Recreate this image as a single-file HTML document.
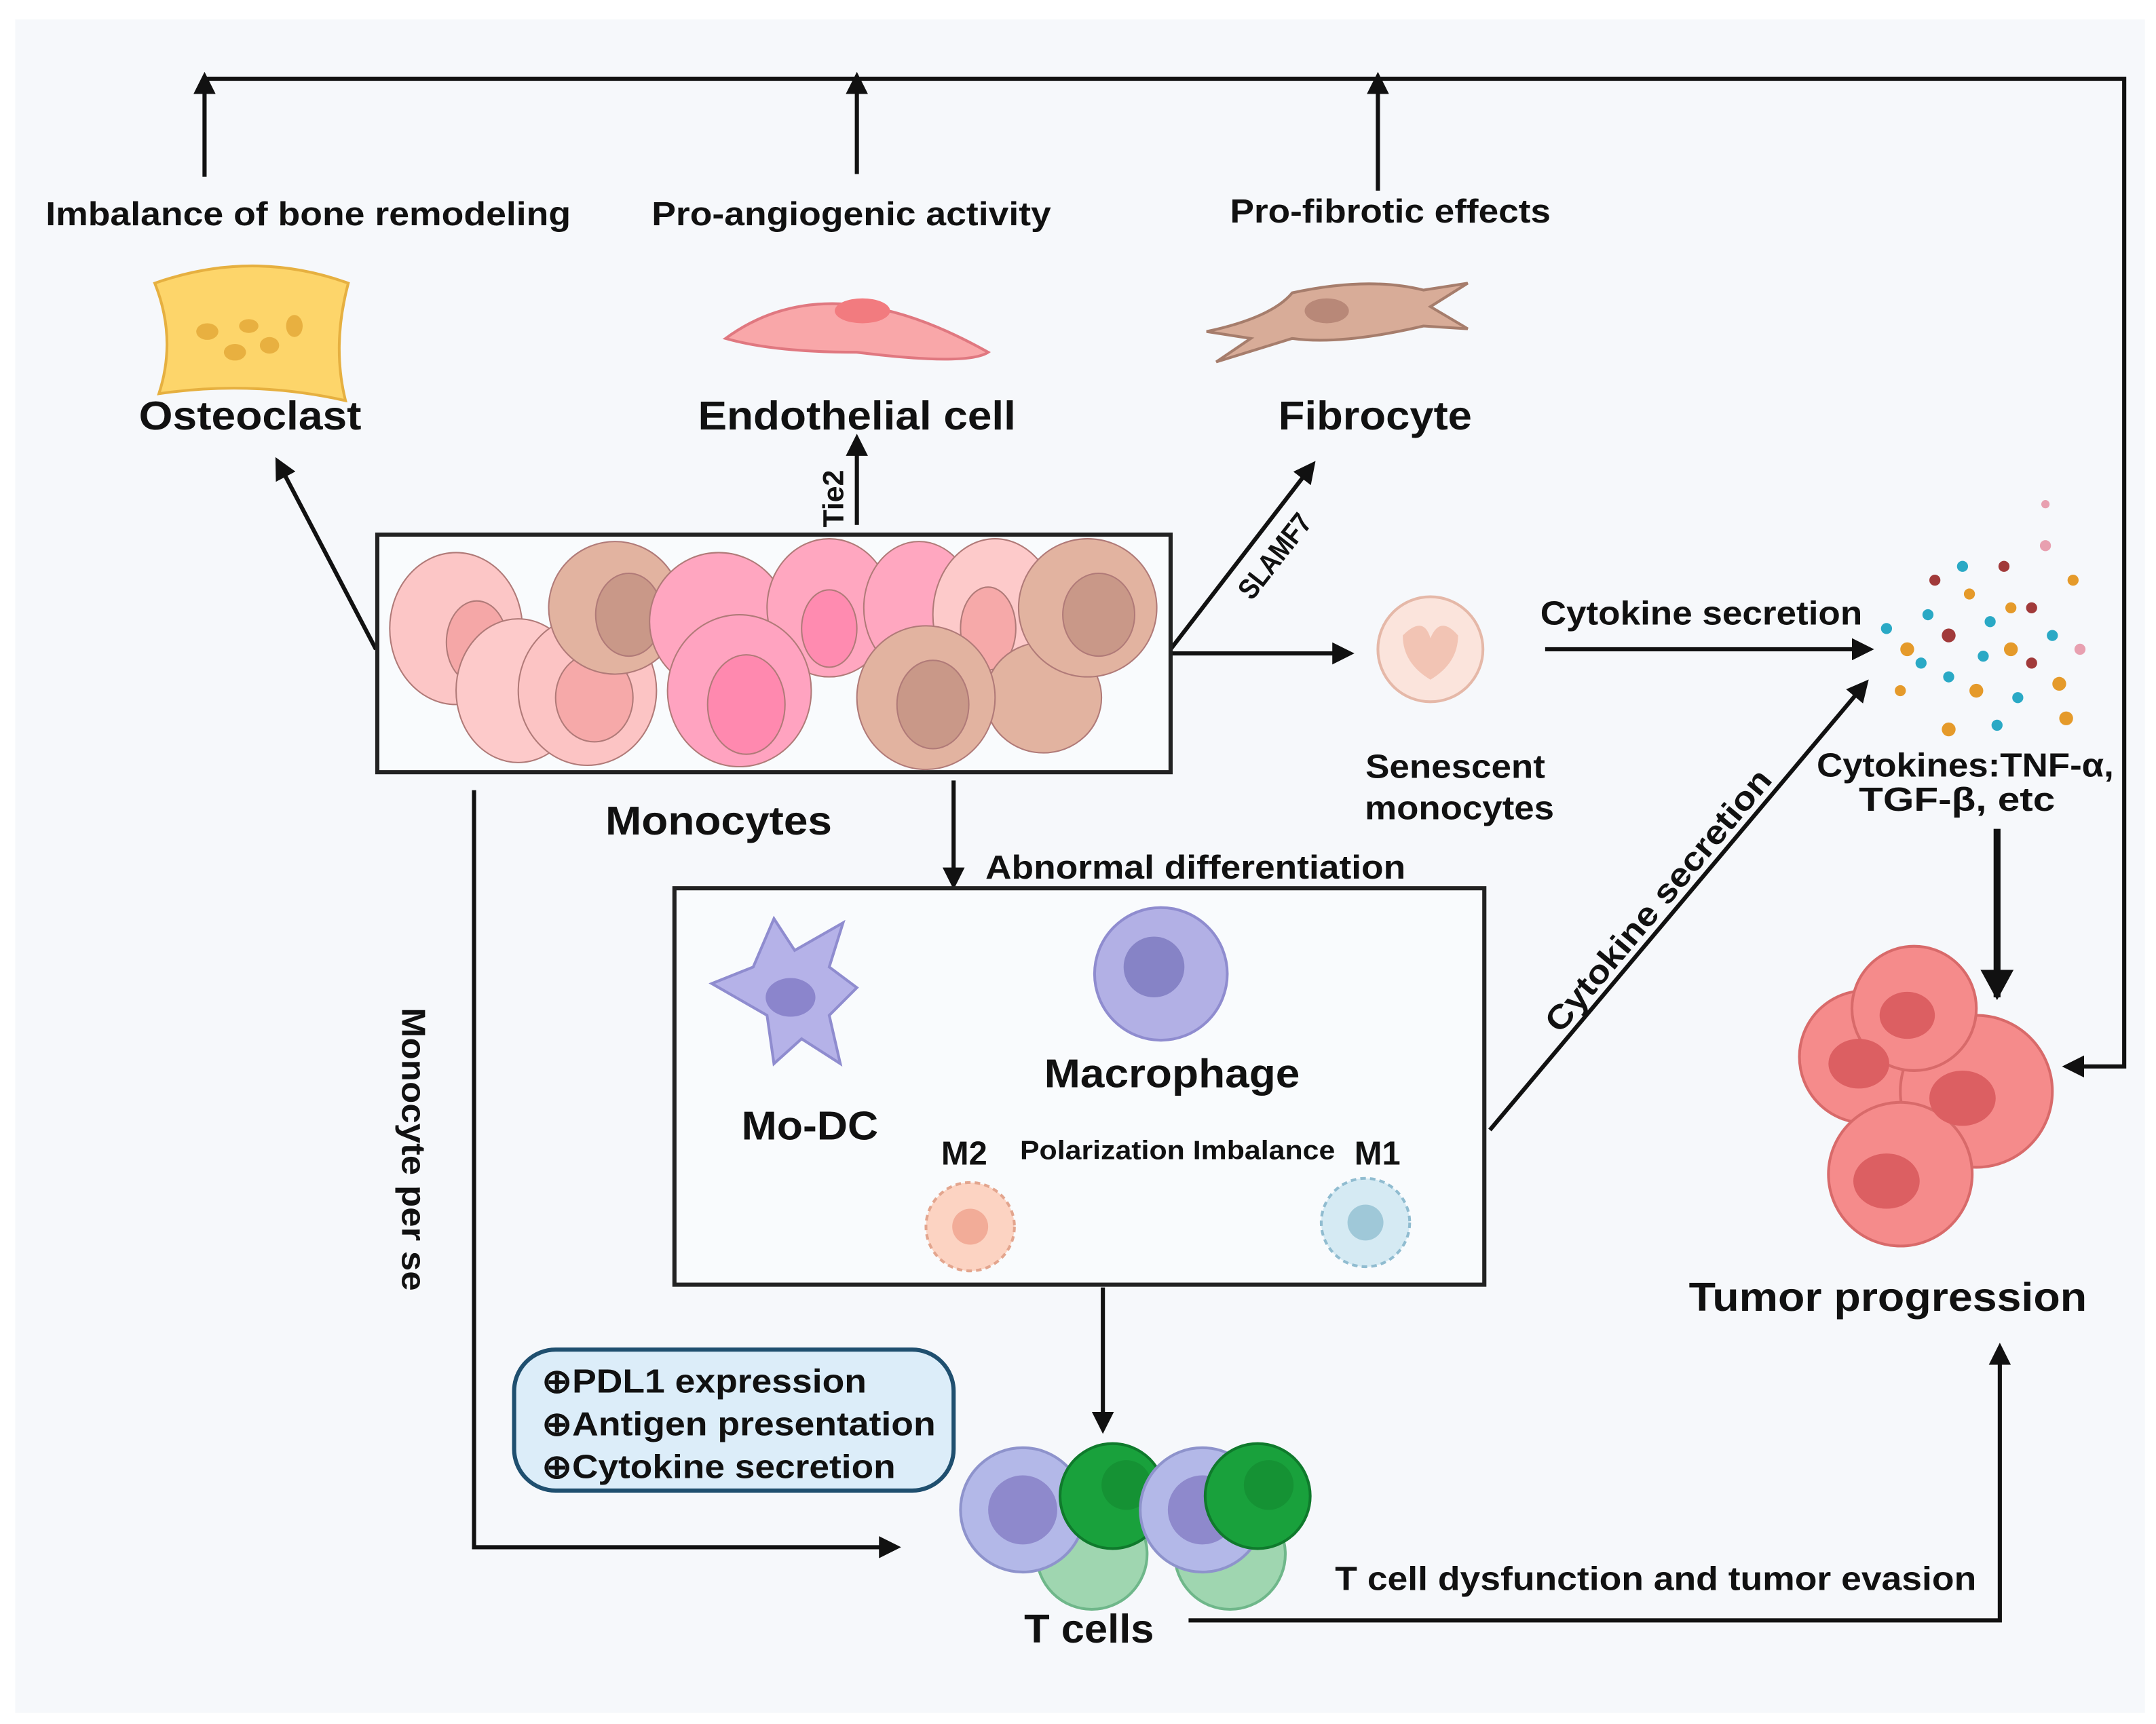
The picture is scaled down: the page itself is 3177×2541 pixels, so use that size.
<!DOCTYPE html>
<html><head><meta charset="utf-8"><style>
html,body{margin:0;padding:0;background:#fff;}
svg{display:block;}
text{font-family:"Liberation Sans",Arial,sans-serif;font-weight:bold;fill:#111;}
</style></head><body>
<svg width="3177" height="2541" viewBox="0 0 1560 1248" preserveAspectRatio="none" xmlns="http://www.w3.org/2000/svg">
<defs>
<marker id="b" markerWidth="16" markerHeight="16" refX="8" refY="8" orient="auto" markerUnits="userSpaceOnUse" viewBox="0 0 16 16"><path d="M0,0 L16,8 L0,16 z" fill="#111"/></marker>
<marker id="c" markerWidth="22" markerHeight="24" refX="20" refY="12" orient="auto" markerUnits="userSpaceOnUse"><path d="M0,0 L22,12 L0,24 z" fill="#111"/></marker>
</defs>
<rect x="0" y="0" width="1560" height="1248" fill="#fff"/>
<rect x="11" y="14" width="1541" height="1226" fill="#f6f8fb"/>

<g stroke="#111" stroke-width="3" fill="none">
<path d="M148,57 L1537,57 L1537,772 L1500,772" marker-end="url(#b)"/>
<path d="M148,128 L148,60" marker-end="url(#b)"/>
<path d="M620,126 L620,60" marker-end="url(#b)"/>
<path d="M997,138 L997,60" marker-end="url(#b)"/>
<path d="M272,470 L203,338" marker-end="url(#b)"/>
<path d="M620,380 L620,322" marker-end="url(#b)"/>
<path d="M847,470 L947,340" marker-end="url(#b)"/>
<path d="M847,473 L972,473" marker-end="url(#b)"/>
<path d="M1118,470 L1348,470" marker-end="url(#b)"/>
<path d="M690,565 L690,636" marker-end="url(#b)"/>
<path d="M1078,818 L1347,498" marker-end="url(#b)"/>
<path d="M798,932 L798,1030" marker-end="url(#b)"/>
<path d="M343,572 L343,1120 L644,1120" marker-end="url(#b)"/>
<path d="M860,1173 L1447,1173 L1447,980" marker-end="url(#b)"/>
<path d="M1445,600 L1445,722" stroke-width="5" marker-end="url(#c)"/>
<path d="M835,790 L835,805 M700,820 L700,805 L997,805 L997,820"/>
</g>

<rect x="273" y="387" width="574" height="172" fill="#f9fbfd" stroke="#222" stroke-width="3"/>
<rect x="488" y="643" width="586" height="287" fill="#f9fbfd" stroke="#222" stroke-width="3"/>
<rect x="372" y="977" width="318" height="102" rx="30" fill="#dcedf9" stroke="#1f4f6f" stroke-width="3"/>

<g stroke="#b07a78" stroke-width="1">
<ellipse cx="330" cy="455" rx="48" ry="55" fill="#fcc6c6"/><ellipse cx="345" cy="465" rx="22" ry="30" fill="#f5a7a7"/>
<ellipse cx="375" cy="500" rx="45" ry="52" fill="#fdcaca"/>
<ellipse cx="425" cy="500" rx="50" ry="54" fill="#fcc4c4"/><ellipse cx="430" cy="505" rx="28" ry="32" fill="#f6a9a9"/>
<ellipse cx="445" cy="440" rx="48" ry="48" fill="#e2b3a0"/><ellipse cx="455" cy="445" rx="24" ry="30" fill="#c99888"/>
<ellipse cx="520" cy="450" rx="50" ry="50" fill="#ffa6c0"/>
<ellipse cx="600" cy="440" rx="45" ry="50" fill="#ffa7c0"/><ellipse cx="600" cy="455" rx="20" ry="28" fill="#ff8bb0"/>
<ellipse cx="665" cy="440" rx="40" ry="48" fill="#ffa7c0"/>
<ellipse cx="535" cy="500" rx="52" ry="55" fill="#ffa3c0"/><ellipse cx="540" cy="510" rx="28" ry="36" fill="#ff89af"/>
<ellipse cx="720" cy="445" rx="45" ry="55" fill="#fdcaca"/><ellipse cx="715" cy="455" rx="20" ry="30" fill="#f6a9a9"/>
<ellipse cx="755" cy="505" rx="42" ry="40" fill="#e2b3a0"/>
<ellipse cx="670" cy="505" rx="50" ry="52" fill="#e2b3a0"/><ellipse cx="675" cy="510" rx="26" ry="32" fill="#c99888"/>
<ellipse cx="787" cy="440" rx="50" ry="50" fill="#e2b3a0"/><ellipse cx="795" cy="445" rx="26" ry="30" fill="#c99888"/>
</g>

<path d="M112,205 Q183,180 252,205 Q240,250 250,290 Q183,275 115,285 Q128,245 112,205z" fill="#fdd56a" stroke="#e6b040" stroke-width="2"/>
<g fill="#e8b040"><ellipse cx="150" cy="240" rx="8" ry="6"/><ellipse cx="170" cy="255" rx="8" ry="6"/><ellipse cx="195" cy="250" rx="7" ry="6"/><ellipse cx="213" cy="236" rx="6" ry="8"/><ellipse cx="180" cy="236" rx="7" ry="5"/></g>
<path d="M525,245 Q600,190 715,255 Q700,265 620,255 Q560,255 525,245z" fill="#f9a7a9" stroke="#e07880" stroke-width="2"/>
<ellipse cx="624" cy="225" rx="20" ry="9" fill="#f27b7f"/>
<path d="M873,240 Q920,230 935,212 Q990,200 1030,210 L1062,205 L1035,222 L1062,238 L1030,236 Q970,250 935,245 L880,262 L905,245z" fill="#d8ac98" stroke="#a67d6c" stroke-width="2"/>
<ellipse cx="960" cy="225" rx="16" ry="9" fill="#b88878"/>
<circle cx="1035" cy="470" r="38" fill="#fbe4dc" stroke="#e5b8a8" stroke-width="2"/>
<path d="M1015,460 Q1030,445 1035,462 Q1042,445 1055,460 Q1055,480 1035,492 Q1015,480 1015,460z" fill="#f2c4b4"/>
<g>
<circle cx="1380" cy="470" r="5" fill="#e59a2a"/><circle cx="1395" cy="445" r="4" fill="#2aa9c5"/><circle cx="1410" cy="460" r="5" fill="#a13a3a"/><circle cx="1425" cy="430" r="4" fill="#e59a2a"/><circle cx="1440" cy="450" r="4" fill="#2aa9c5"/><circle cx="1455" cy="470" r="5" fill="#e59a2a"/><circle cx="1470" cy="440" r="4" fill="#a13a3a"/><circle cx="1485" cy="460" r="4" fill="#2aa9c5"/><circle cx="1500" cy="420" r="4" fill="#e59a2a"/><circle cx="1410" cy="490" r="4" fill="#2aa9c5"/><circle cx="1430" cy="500" r="5" fill="#e59a2a"/><circle cx="1460" cy="505" r="4" fill="#2aa9c5"/><circle cx="1490" cy="495" r="5" fill="#e59a2a"/><circle cx="1375" cy="500" r="4" fill="#e59a2a"/><circle cx="1450" cy="410" r="4" fill="#a13a3a"/><circle cx="1480" cy="395" r="4" fill="#e8a0b0"/><circle cx="1420" cy="410" r="4" fill="#2aa9c5"/><circle cx="1400" cy="420" r="4" fill="#a13a3a"/><circle cx="1365" cy="455" r="4" fill="#2aa9c5"/><circle cx="1495" cy="520" r="5" fill="#e59a2a"/><circle cx="1445" cy="525" r="4" fill="#2aa9c5"/><circle cx="1410" cy="528" r="5" fill="#e59a2a"/><circle cx="1470" cy="480" r="4" fill="#a13a3a"/><circle cx="1435" cy="475" r="4" fill="#2aa9c5"/><circle cx="1390" cy="480" r="4" fill="#2aa9c5"/><circle cx="1505" cy="470" r="4" fill="#e8a0b0"/><circle cx="1480" cy="365" r="3" fill="#e8a0b0"/><circle cx="1455" cy="440" r="4" fill="#e59a2a"/>
</g>
<g stroke="#d86a6a" stroke-width="2" fill="#f58b8b">
<circle cx="1350" cy="765" r="48"/><circle cx="1430" cy="790" r="55"/><circle cx="1385" cy="730" r="45"/><circle cx="1375" cy="850" r="52"/>
</g>
<g fill="#dc5f62"><ellipse cx="1345" cy="770" rx="22" ry="18"/><ellipse cx="1420" cy="795" rx="24" ry="20"/><ellipse cx="1380" cy="735" rx="20" ry="17"/><ellipse cx="1365" cy="855" rx="24" ry="20"/></g>
<path d="M515,712 L545,700 L560,665 L575,688 L610,668 L600,700 L620,715 L600,735 L608,770 L580,752 L560,770 L555,735 L515,712z" fill="#b5b2e8" stroke="#8f8ccf" stroke-width="2"/>
<ellipse cx="572" cy="722" rx="18" ry="14" fill="#8b85cc"/>
<circle cx="840" cy="705" r="48" fill="#b2b0e5" stroke="#8f8ccf" stroke-width="2"/>
<circle cx="835" cy="700" r="22" fill="#8683c6"/>
<circle cx="702" cy="888" r="32" fill="#fcd3c2" stroke="#e3a58e" stroke-width="2" stroke-dasharray="4 3"/><circle cx="702" cy="888" r="13" fill="#f2ac98"/>
<circle cx="988" cy="885" r="32" fill="#d5eaf3" stroke="#90bcd0" stroke-width="2" stroke-dasharray="4 3"/><circle cx="988" cy="885" r="13" fill="#9fc8d8"/>
<g stroke-width="2">
<circle cx="790" cy="1125" r="40" fill="#9fd6b0" stroke="#6fb78a"/><circle cx="890" cy="1125" r="40" fill="#9fd6b0" stroke="#6fb78a"/>
<circle cx="740" cy="1093" r="45" fill="#b3b8e8" stroke="#8e93cc"/><circle cx="740" cy="1093" r="25" fill="#8e89cc"/>
<circle cx="805" cy="1083" r="38" fill="#19a13c" stroke="#0f7a2c"/><circle cx="815" cy="1075" r="18" fill="#159234"/>
<circle cx="870" cy="1093" r="45" fill="#b3b8e8" stroke="#8e93cc"/><circle cx="870" cy="1093" r="25" fill="#8e89cc"/>
<circle cx="910" cy="1083" r="38" fill="#19a13c" stroke="#0f7a2c"/><circle cx="918" cy="1075" r="18" fill="#159234"/>
</g>

<g font-size="24" text-anchor="middle" lengthAdjust="spacingAndGlyphs">
<text x="223" y="163" textLength="380" lengthAdjust="spacingAndGlyphs">Imbalance of bone remodeling</text>
<text x="616" y="163" textLength="289" lengthAdjust="spacingAndGlyphs">Pro-angiogenic activity</text>
<text x="1006" y="161" textLength="232" lengthAdjust="spacingAndGlyphs">Pro-fibrotic effects</text>
<text x="1231" y="452" textLength="233" lengthAdjust="spacingAndGlyphs">Cytokine secretion</text>
<text x="1053" y="563" textLength="130" lengthAdjust="spacingAndGlyphs">Senescent</text>
<text x="1056" y="593" textLength="137" lengthAdjust="spacingAndGlyphs">monocytes</text>
<text x="1422" y="562" textLength="215" lengthAdjust="spacingAndGlyphs">Cytokines:TNF-α,</text>
<text x="1416" y="587" textLength="142" lengthAdjust="spacingAndGlyphs">TGF-β, etc</text>
<text x="865" y="636" textLength="304" lengthAdjust="spacingAndGlyphs">Abnormal differentiation</text>
<text x="1198" y="1151" textLength="464" lengthAdjust="spacingAndGlyphs">T cell dysfunction and tumor evasion</text>
</g>
<g font-size="29" text-anchor="middle">
<text x="181" y="311" textLength="161" lengthAdjust="spacingAndGlyphs">Osteoclast</text>
<text x="620" y="311" textLength="230" lengthAdjust="spacingAndGlyphs">Endothelial cell</text>
<text x="995" y="311" textLength="140" lengthAdjust="spacingAndGlyphs">Fibrocyte</text>
<text x="520" y="604" textLength="164" lengthAdjust="spacingAndGlyphs">Monocytes</text>
<text x="848" y="787" textLength="185" lengthAdjust="spacingAndGlyphs">Macrophage</text>
<text x="586" y="825" textLength="99" lengthAdjust="spacingAndGlyphs">Mo-DC</text>
<text x="1366" y="949" textLength="288" lengthAdjust="spacingAndGlyphs">Tumor progression</text>
<text x="788" y="1189" textLength="94" lengthAdjust="spacingAndGlyphs">T cells</text>
</g>
<g font-size="24">
<text x="681" y="843">M2</text>
<text x="980" y="843">M1</text>
</g>
<text x="852" y="839" font-size="19" text-anchor="middle" textLength="228" lengthAdjust="spacingAndGlyphs">Polarization Imbalance</text>
<g font-size="24">
<text x="392" y="1008" textLength="235" lengthAdjust="spacingAndGlyphs">⊕PDL1 expression</text>
<text x="392" y="1039" textLength="285" lengthAdjust="spacingAndGlyphs">⊕Antigen presentation</text>
<text x="392" y="1070" textLength="256" lengthAdjust="spacingAndGlyphs">⊕Cytokine secretion</text>
</g>
<text font-size="21" transform="translate(610,361) rotate(-90)" text-anchor="middle">Tie2</text>
<text font-size="21" transform="translate(928,407) rotate(-52)" text-anchor="middle" textLength="72" lengthAdjust="spacingAndGlyphs">SLAMF7</text>
<text font-size="24" transform="translate(1206,657) rotate(-50)" text-anchor="middle" textLength="240" lengthAdjust="spacingAndGlyphs">Cytokine secretion</text>
<text font-size="24" transform="translate(291,832) rotate(90)" text-anchor="middle" textLength="205" lengthAdjust="spacingAndGlyphs">Monocyte per se</text>
</svg>
</body></html>
